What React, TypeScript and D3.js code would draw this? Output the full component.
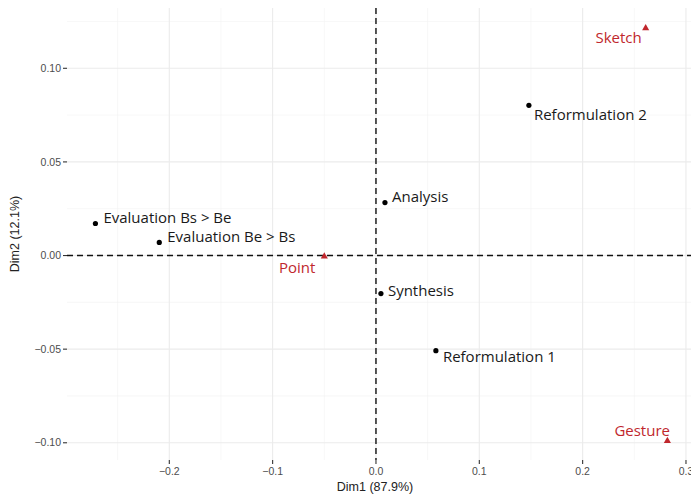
import React from "react";
import * as d3 from "d3";

const rowNames = ["Evaluation Bs > Be", "Evaluation Be > Bs", "Analysis", "Synthesis", "Reformulation 1", "Reformulation 2"];
const rowDim1 = [-0.2715, -0.2097, 0.0087, 0.0048, 0.058, 0.148];
const rowDim2 = [0.0171, 0.007, 0.0283, -0.0203, -0.0508, 0.0802];

const colNames = ["Point", "Sketch", "Gesture"];
const colDim1 = [-0.05, 0.261, 0.282];
const colDim2 = [-0.0005, 0.1214, -0.099];

const xTicks = [-0.2, -0.1, 0.0, 0.1, 0.2, 0.3];
const xMinor = [-0.25, -0.15, -0.05, 0.05, 0.15, 0.25];
const yTicks = [-0.1, -0.05, 0.0, 0.05, 0.1];
const yMinor = [-0.075, -0.025, 0.025, 0.075, 0.125];

const xTitle = "Dim1 (87.9%)";
const yTitle = "Dim2 (12.1%)";

// label layout offsets (style, not data)
const rowLabelOffsets: [number, number, string][] = [
  [8, -6, "start"],
  [8, -5, "start"],
  [7, -6, "start"],
  [7, -3, "start"],
  [7, 6, "start"],
  [5, 10, "start"],
];
const colLabelOffsets: [number, number, string][] = [
  [-9, 12, "end"],
  [-4, 10, "end"],
  [-53, -10, "start"],
];

const W = 691;
const H = 495;
const panel = { left: 67, right: 696, top: 8, bottom: 460 };

export default function App() {
  const x = d3.scaleLinear().domain([-0.299, 0.3097]).range([panel.left, panel.right]);
  const y = d3.scaleLinear().domain([-0.1092, 0.1322]).range([panel.bottom, panel.top]);
  const tri = d3.symbol().type(d3.symbolTriangle).size(22)();
  const red = "#c0272d";
  const fmtX = (v: number) => (v === 0 ? "0.0" : d3.format(".1f")(v).replace("-", "\u2212"));
  const fmtY = (v: number) => d3.format(".2f")(v).replace("-", "\u2212");
  return (
    <svg width={W} height={H} style={{ position: "absolute", left: 0, top: 0, background: "#fff" }}>
      <g>
        {xMinor.map((v) => (
          <line key={"xm" + v} x1={x(v)} x2={x(v)} y1={panel.top} y2={panel.bottom} stroke="#f2f2f2" strokeWidth={0.6} />
        ))}
        {yMinor.map((v) => (
          <line key={"ym" + v} y1={y(v)} y2={y(v)} x1={panel.left} x2={panel.right} stroke="#f2f2f2" strokeWidth={0.6} />
        ))}
        {xTicks.map((v) => (
          <line key={"xg" + v} x1={x(v)} x2={x(v)} y1={panel.top} y2={panel.bottom} stroke="#ebebeb" strokeWidth={1.1} />
        ))}
        {yTicks.map((v) => (
          <line key={"yg" + v} y1={y(v)} y2={y(v)} x1={panel.left} x2={panel.right} stroke="#ebebeb" strokeWidth={1.1} />
        ))}
      </g>
      <line x1={panel.left} x2={panel.right} y1={y(0)} y2={y(0)} stroke="#111" strokeWidth={1.4} strokeDasharray="6,4" />
      <line x1={x(0)} x2={x(0)} y1={panel.top} y2={panel.bottom} stroke="#111" strokeWidth={1.4} strokeDasharray="6,4" />
      {/* axes ticks */}
      {xTicks.map((v) => (
        <g key={"xt" + v}>
          <line x1={x(v)} x2={x(v)} y1={panel.bottom} y2={panel.bottom + 4} stroke="#333" strokeWidth={1.1} />
          <text x={x(v)} y={panel.bottom + 15} textAnchor="middle" fontSize={10.5} fill="#4d4d4d" fontFamily="'Liberation Sans', Arial, sans-serif">
            {fmtX(v)}
          </text>
        </g>
      ))}
      {yTicks.map((v) => (
        <g key={"yt" + v}>
          <line x1={panel.left - 4} x2={panel.left} y1={y(v)} y2={y(v)} stroke="#333" strokeWidth={1.1} />
          <text x={panel.left - 6} y={y(v) + 3.7} textAnchor="end" fontSize={10.5} fill="#4d4d4d" fontFamily="'Liberation Sans', Arial, sans-serif">
            {fmtY(v)}
          </text>
        </g>
      ))}
      <text x={(panel.left + 683) / 2} y={491} textAnchor="middle" fontSize={12.5} fill="#222" fontFamily="'Liberation Sans', Arial, sans-serif">
        {xTitle}
      </text>
      <text transform={`translate(19,${(panel.top + panel.bottom) / 2}) rotate(-90)`} textAnchor="middle" fontSize={12.5} fill="#222" fontFamily="'Liberation Sans', Arial, sans-serif">
        {yTitle}
      </text>
      {/* row points */}
      {rowNames.map((n, i) => {
        const px = x(rowDim1[i]);
        const py = y(rowDim2[i]);
        const [dx, dy, anchor] = rowLabelOffsets[i];
        return (
          <g key={n}>
            <circle cx={px} cy={py} r={2.6} fill="#000" />
            <text x={px + dx} y={py + dy + 5} textAnchor={anchor as any} fontSize={15} fill="#1a1a1a" fontFamily="'Open Sans', sans-serif">
              {n}
            </text>
          </g>
        );
      })}
      {colNames.map((n, i) => {
        const px = x(colDim1[i]);
        const py = y(colDim2[i]);
        const [dx, dy, anchor] = colLabelOffsets[i];
        return (
          <g key={n}>
            <path d={tri as string} transform={`translate(${px},${py})`} fill={red} />
            <text x={px + dx} y={py + dy + 5} textAnchor={anchor as any} fontSize={15} fill={red} fontFamily="'Open Sans', sans-serif">
              {n}
            </text>
          </g>
        );
      })}
    </svg>
  );
}
